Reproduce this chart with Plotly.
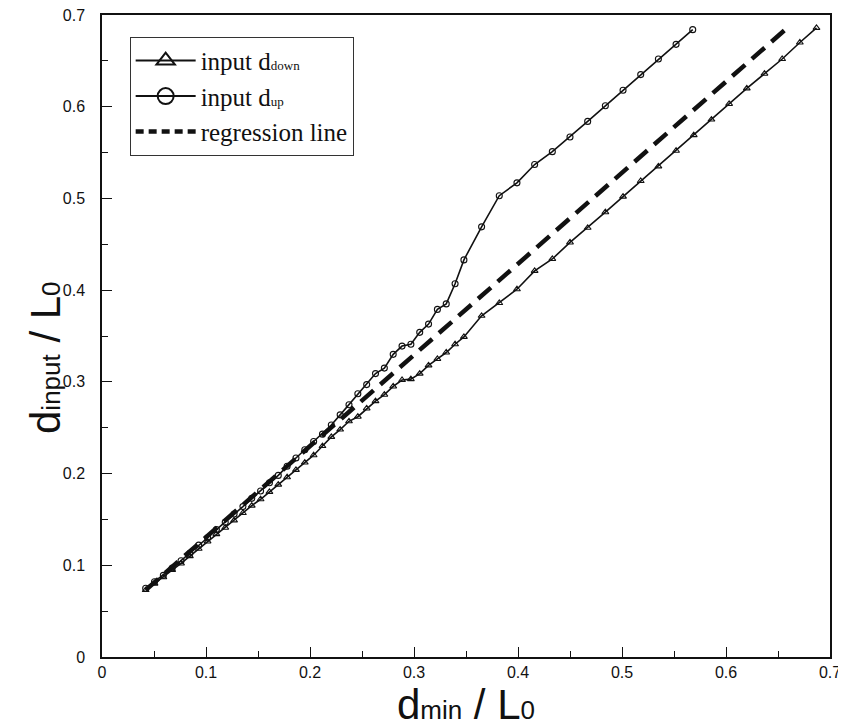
import plotly.graph_objects as go

# ---- data ----
x_up = [0.042, 0.0505, 0.059, 0.0675, 0.076, 0.0845, 0.093, 0.1015, 0.110, 0.1185,
        0.127, 0.1355, 0.144, 0.1525, 0.161, 0.1695, 0.178, 0.1865, 0.195, 0.2035,
        0.212, 0.2205, 0.229, 0.2375, 0.246, 0.2545, 0.263, 0.2715, 0.280, 0.2885,
        0.297, 0.3055, 0.314, 0.3225, 0.331, 0.3395, 0.348, 0.365, 0.382, 0.399,
        0.416, 0.433, 0.450, 0.467, 0.484, 0.501, 0.518, 0.535, 0.552, 0.568]
y_up = [0.075, 0.082, 0.089, 0.097, 0.105, 0.113, 0.122, 0.130, 0.139, 0.147,
        0.156, 0.164, 0.173, 0.181, 0.190, 0.198, 0.208, 0.217, 0.226, 0.235,
        0.243, 0.253, 0.264, 0.275, 0.287, 0.297, 0.309, 0.315, 0.330, 0.339,
        0.341, 0.354, 0.363, 0.379, 0.385, 0.407, 0.433, 0.469, 0.503, 0.517,
        0.537, 0.551, 0.567, 0.584, 0.601, 0.618, 0.635, 0.652, 0.668, 0.684]

x_down = [0.042, 0.0505, 0.059, 0.0675, 0.076, 0.0845, 0.093, 0.1015, 0.110, 0.1185,
          0.127, 0.1355, 0.144, 0.1525, 0.161, 0.1695, 0.178, 0.1865, 0.195, 0.2035,
          0.212, 0.2205, 0.229, 0.2375, 0.246, 0.2545, 0.263, 0.2715, 0.280, 0.2885,
          0.297, 0.3055, 0.314, 0.3225, 0.331, 0.3395, 0.348, 0.365, 0.382, 0.399,
          0.416, 0.433, 0.450, 0.467, 0.484, 0.501, 0.518, 0.535, 0.552, 0.569,
          0.586, 0.603, 0.620, 0.637, 0.654, 0.671, 0.687]
y_down = [0.073, 0.080, 0.087, 0.095, 0.102, 0.110, 0.118, 0.126, 0.134, 0.141,
          0.149, 0.157, 0.165, 0.172, 0.180, 0.188, 0.196, 0.204, 0.212, 0.220,
          0.230, 0.240, 0.248, 0.257, 0.262, 0.271, 0.279, 0.286, 0.295, 0.302,
          0.303, 0.309, 0.318, 0.325, 0.332, 0.341, 0.349, 0.372, 0.386, 0.401,
          0.421, 0.434, 0.452, 0.468, 0.485, 0.502, 0.519, 0.535, 0.552, 0.569,
          0.586, 0.603, 0.620, 0.636, 0.652, 0.670, 0.686]

x_reg = [0.042, 0.660]
y_reg = [0.073, 0.687]

tick_vals = [0, 0.1, 0.2, 0.3, 0.4, 0.5, 0.6, 0.7]
tick_text = ["0", "0.1", "0.2", "0.3", "0.4", "0.5", "0.6", "0.7"]

name_down = 'input d<span style="font-size:13px">down</span>'
name_up = 'input d<span style="font-size:13px">up</span>'
name_reg = 'regression line'

x_title = 'd<span style="font-size:26px">min</span> / L<span style="font-size:26px">0</span>'
y_title = 'd<span style="font-size:26px">input</span> / L<span style="font-size:26px">0</span>'

INK = "#111111"
SANS = "Liberation Sans, Arial, sans-serif"

fig = go.Figure()

# data traces (not in legend)
fig.add_trace(go.Scatter(x=x_reg, y=y_reg, mode="lines",
                         line=dict(color=INK, width=4.5, dash="17px,9px"),
                         showlegend=False))
fig.add_trace(go.Scatter(x=x_down, y=y_down, mode="lines+markers",
                         line=dict(color=INK, width=1.6),
                         marker=dict(symbol="triangle-up-open", size=6, color=INK,
                                     line=dict(width=1.1, color=INK)),
                         showlegend=False))
fig.add_trace(go.Scatter(x=x_up, y=y_up, mode="lines+markers",
                         line=dict(color=INK, width=1.6),
                         marker=dict(symbol="circle-open", size=6, color=INK,
                                     line=dict(width=1.1, color=INK)),
                         showlegend=False))

# legend entries (larger symbols, as in the reference legend)
fig.add_trace(go.Scatter(x=[None], y=[None], mode="lines+markers", name=name_down,
                         legendgroup="a",
                         line=dict(color=INK, width=2),
                         marker=dict(symbol="triangle-up-open", size=16, color=INK,
                                     line=dict(width=2, color=INK))))
fig.add_trace(go.Scatter(x=[None], y=[None], mode="lines+markers", name=name_up,
                         legendgroup="b",
                         line=dict(color=INK, width=2),
                         marker=dict(symbol="circle-open", size=16, color=INK,
                                     line=dict(width=2, color=INK))))
fig.add_trace(go.Scatter(x=[None], y=[None], mode="lines", name=name_reg,
                         legendgroup="c",
                         line=dict(color=INK, width=4.5, dash="8px,5px")))

axis_common = dict(
    range=[0, 0.7], automargin=False, ticklabeloverflow="allow",
    tickmode="array", tickvals=tick_vals, ticktext=tick_text,
    ticks="inside", ticklen=10, tickwidth=1.2, tickcolor=INK,
    minor=dict(ticks="inside", ticklen=6, tickwidth=1, tickcolor=INK, dtick=0.05),
    showline=True, linecolor=INK, linewidth=1.5, mirror=True,
    showgrid=False, zeroline=False,
    tickfont=dict(family=SANS, size=16, color=INK),
)

fig.update_xaxes(**axis_common,
                 title=dict(text=x_title, font=dict(family=SANS, size=42, color=INK),
                            standoff=0))
fig.update_yaxes(**axis_common, ticklabelstandoff=12)

# y-axis title placed to the left of the tick labels
fig.add_annotation(text=y_title, xref="paper", yref="paper", x=0, y=0.5,
                   xanchor="center", yanchor="middle", xshift=-57, yshift=-22,
                   textangle=-90, showarrow=False,
                   font=dict(family=SANS, size=42, color=INK))

# the page adds an 8 px body margin, so the figure is 8 px smaller and margins shifted
fig.update_layout(
    width=838, height=720,
    margin=dict(l=94, r=16, t=7, b=71),
    plot_bgcolor="white", paper_bgcolor="white",
    legend=dict(x=0.038, y=0.966, xanchor="left", yanchor="top",
                bgcolor="white", bordercolor="#333333", borderwidth=1,
                font=dict(family="Liberation Serif, Times New Roman, serif", size=25, color=INK),
                tracegroupgap=0, itemwidth=60),
)

fig.write_html("out.html")
